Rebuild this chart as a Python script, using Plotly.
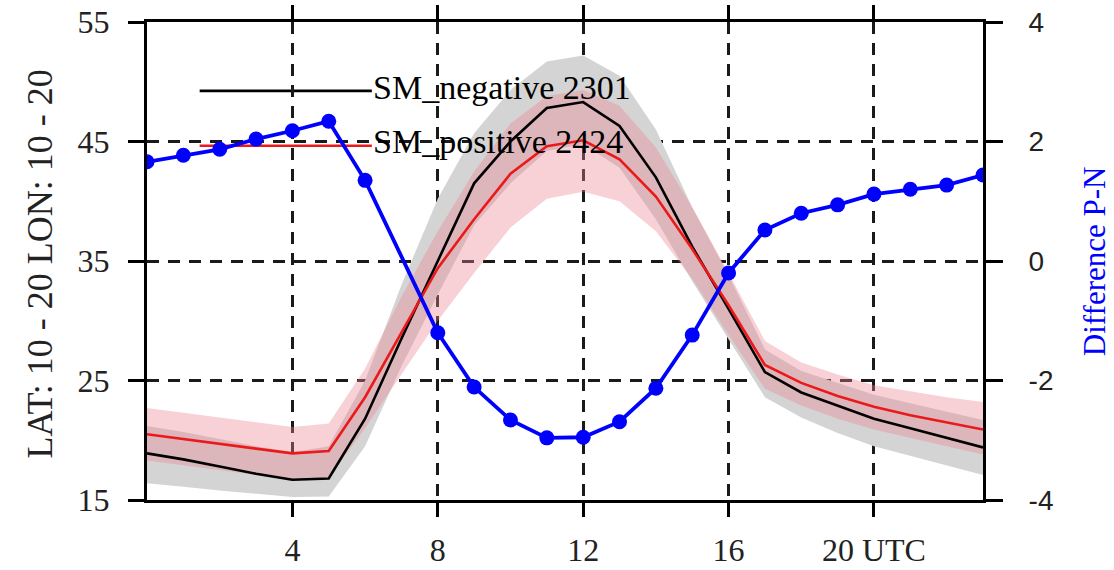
import plotly.graph_objects as go

hours = list(range(24))

# SM negative (black) mean and spread
neg = [18.9, 18.4, 17.8, 17.2, 16.7, 16.8, 21.8, 28.5, 35.0, 41.5, 45.0, 47.8,
       48.3, 46.3, 42.0, 36.2, 31.0, 25.7, 24.0, 22.9, 21.8, 21.0, 20.2, 19.4]
neg_upper = [21.2, 20.7, 20.1, 19.5, 19.0, 19.5, 25.0, 33.0, 40.2, 45.7, 49.3, 51.7,
             52.2, 50.5, 46.0, 39.5, 33.8, 27.6, 25.8, 24.8, 23.8, 23.1, 22.4, 21.7]
neg_lower = [16.4, 16.1, 15.8, 15.5, 15.25, 15.3, 19.5, 26.2, 32.2, 38.0, 41.5, 44.2,
             44.8, 42.8, 38.5, 33.3, 28.5, 23.6, 21.9, 20.6, 19.5, 18.7, 17.9, 17.1]

# SM positive (red) mean and spread
pos = [20.5, 20.1, 19.7, 19.3, 18.9, 19.1, 23.6, 29.0, 34.4, 38.5, 42.3, 44.6,
       45.1, 43.5, 40.4, 36.0, 31.3, 26.3, 24.8, 23.7, 22.8, 22.1, 21.5, 20.9]
pos_upper = [22.7, 22.3, 21.9, 21.5, 21.1, 21.4, 26.0, 32.0, 37.5, 42.5, 46.5, 48.8,
             49.3, 48.0, 44.5, 39.5, 34.0, 28.3, 26.5, 25.5, 24.6, 24.1, 23.6, 23.2]
pos_lower = [18.3, 17.9, 17.5, 17.1, 16.7, 16.9, 21.0, 25.5, 30.0, 34.0, 37.8, 40.2,
             40.8, 40.0, 37.5, 33.5, 28.8, 24.3, 22.9, 21.8, 20.9, 20.2, 19.5, 18.8]

# Difference P-N (blue, right axis); no marker at hour 7
diff = [1.66, 1.77, 1.87, 2.04, 2.18, 2.34, 1.35, None, -1.20, -2.11, -2.66, -2.96,
        -2.95, -2.69, -2.13, -1.24, -0.20, 0.52, 0.80, 0.94, 1.12, 1.20, 1.27, 1.44]

x_ticks = [4, 8, 12, 16, 20]
x_ticktext = ["4", "8", "12", "16", "20 UTC"]
y_ticks = [15, 25, 35, 45, 55]
y2_ticks = [-4, -2, 0, 2, 4]
y2_ticktext = ["-4", "-2", "0", "2", "4"]
legend_labels = ["SM_negative 2301", "SM_positive 2424"]

SERIF = "Liberation Serif, Times New Roman, serif"
SANS = "Liberation Sans, Arial, sans-serif"

fig = go.Figure()

fig.add_trace(go.Scatter(
    x=hours + hours[::-1], y=neg_upper + neg_lower[::-1],
    fill="toself", fillcolor="rgb(212,212,212)", line=dict(width=0),
    mode="lines", hoverinfo="skip", showlegend=False))
fig.add_trace(go.Scatter(
    x=hours + hours[::-1], y=pos_upper + pos_lower[::-1],
    fill="toself", fillcolor="rgba(236,135,150,0.38)", line=dict(width=0),
    mode="lines", hoverinfo="skip", showlegend=False))
fig.add_trace(go.Scatter(x=hours, y=neg, mode="lines",
                         line=dict(color="black", width=2.6), showlegend=False))
fig.add_trace(go.Scatter(x=hours, y=pos, mode="lines",
                         line=dict(color="rgb(235,25,25)", width=2.6), showlegend=False))
fig.add_trace(go.Scatter(x=hours, y=diff, mode="lines+markers", yaxis="y2",
                         connectgaps=True,
                         line=dict(color="rgb(0,0,255)", width=3.8),
                         marker=dict(color="rgb(0,0,255)", size=15),
                         showlegend=False))

# legend (manual, long line samples)
leg_y = [0.856, 0.741]
leg_col = ["black", "rgb(235,25,25)"]
for yy, col, lab in zip(leg_y, leg_col, legend_labels):
    fig.add_shape(type="line", xref="paper", yref="paper",
                  x0=0.063, x1=0.269, y0=yy, y1=yy, layer="between",
                  line=dict(color=col, width=2.6))
    fig.add_annotation(xref="paper", yref="paper", x=0.268, y=yy + 0.008,
                       text=lab, showarrow=False, xanchor="left", yanchor="middle",
                       font=dict(family=SERIF, size=34, color="black"))

# axis titles
fig.add_annotation(xref="paper", yref="paper", x=-0.128, y=0.495,
                   text="LAT: 10 - 20 LON: 10 - 20", textangle=-90, showarrow=False,
                   xanchor="center", yanchor="middle",
                   font=dict(family=SERIF, size=36, color="#222"))
fig.add_annotation(xref="paper", yref="paper", x=1.133, y=0.5,
                   text="Difference P-N", textangle=-90, showarrow=False,
                   xanchor="center", yanchor="middle",
                   font=dict(family=SERIF, size=31, color="rgb(0,0,255)"))

grid = dict(showgrid=True, gridcolor="#1a1a1a", gridwidth=3, griddash="12px,9px")

fig.update_layout(
    width=1114, height=570,
    margin=dict(l=147, r=131, t=22, b=70, autoexpand=False),
    paper_bgcolor="white", plot_bgcolor="white",
    xaxis=dict(range=[0, 23], tickvals=x_ticks, ticktext=x_ticktext,
               automargin=False, ticklabeloverflow="allow",
               showline=True, linecolor="black", linewidth=3, mirror="ticks",
               ticks="outside", ticklen=14, tickwidth=2.5, tickcolor="black",
               ticklabelstandoff=6,
               tickfont=dict(family=SERIF, size=32, color="#222"),
               zeroline=False, **grid),
    yaxis=dict(range=[15, 55], tickvals=y_ticks, automargin=False,
               ticklabeloverflow="allow",
               showline=True, linecolor="black", linewidth=3, mirror=False,
               ticks="outside", ticklen=16, tickwidth=2.5, tickcolor="black",
               ticklabelstandoff=12,
               tickfont=dict(family=SERIF, size=32, color="#222"),
               zeroline=False, **grid),
    yaxis2=dict(range=[-4, 4], tickvals=y2_ticks, ticktext=y2_ticktext,
                overlaying="y", side="right", automargin=False,
                ticklabeloverflow="allow",
                showline=True, linecolor="black", linewidth=3,
                ticks="outside", ticklen=17, tickwidth=2.5, tickcolor="black",
                ticklabelstandoff=20,
                tickfont=dict(family=SANS, size=28, color="#222"),
                showgrid=False, zeroline=False),
)

fig.write_html("out.html", config={"displayModeBar": False},
               post_script="document.body.style.margin='0';")
